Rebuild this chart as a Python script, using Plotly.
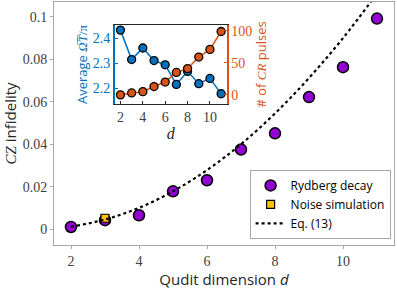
import plotly.graph_objects as go

# main panel
dims = [2, 3, 4, 5, 6, 7, 8, 9, 10, 11]
rydberg_decay = [0.0010, 0.0042, 0.0065, 0.0178, 0.0230, 0.0375, 0.0451, 0.0622, 0.0763, 0.0992]
noise_dims = [3]
noise_sim = [0.0051]
eq13_dims = [2, 3, 4, 5, 6, 7, 8, 9, 10, 11]
eq13_vals = [0.0011, 0.0045, 0.0100, 0.0178, 0.0278, 0.0400, 0.0545, 0.0712, 0.0900, 0.1110]

# inset
inset_dims = [2, 3, 4, 5, 6, 7, 8, 9, 10, 11]
avg_omega_t = [2.432, 2.315, 2.361, 2.311, 2.294, 2.216, 2.268, 2.219, 2.240, 2.179]
cr_pulses = [0, 3, 5, 13, 20, 35, 41, 59, 71, 99]

BLUE = "#0072BD"
ORANGE = "#D95319"
PURPLE = "#9400D3"
GOLD = "#FFC000"
SERIF = "Liberation Serif, Times New Roman, serif"
SANS = "Open Sans, sans-serif"
TICK_FONT = dict(family=SERIF, size=14, color="#404040")

fig = go.Figure()

fig.add_trace(go.Scatter(
    x=dims, y=rydberg_decay, mode="markers", name="Rydberg decay",
    marker=dict(color=PURPLE, size=11, line=dict(color="black", width=1.5)),
))
fig.add_trace(go.Scatter(
    x=noise_dims, y=noise_sim, mode="markers", name="Noise simulation",
    marker=dict(color=GOLD, size=8, symbol="square", line=dict(color="black", width=1.2)),
))
fig.add_trace(go.Scatter(
    x=eq13_dims, y=eq13_vals, mode="lines", name="Eq. (13)",
    line=dict(color="black", width=2.2, dash="dot", shape="spline"),
))

# inset traces
fig.add_trace(go.Scatter(
    x=inset_dims, y=avg_omega_t, mode="lines+markers", showlegend=False,
    xaxis="x2", yaxis="y2",
    line=dict(color=BLUE, width=1.5),
    marker=dict(color=BLUE, size=8, line=dict(color="black", width=1.3)),
))
fig.add_trace(go.Scatter(
    x=inset_dims, y=cr_pulses, mode="lines+markers", showlegend=False,
    xaxis="x2", yaxis="y3",
    line=dict(color=ORANGE, width=1.5),
    marker=dict(color=ORANGE, size=8, line=dict(color="black", width=1.3)),
))

fig.update_layout(
    width=397, height=289,
    margin=dict(l=54, r=3, t=2, b=44),
    plot_bgcolor="white", paper_bgcolor="white",
    xaxis=dict(
        range=[1.5, 11.5], tickvals=[2, 4, 6, 8, 10],
        showgrid=False, zeroline=False, automargin=False,
        showline=True, linecolor="#a8a8a8", linewidth=1, mirror=True,
        ticks="outside", ticklen=3, tickcolor="#a8a8a8",
        tickfont=TICK_FONT,
        title=dict(text="Qudit dimension <i>d</i>", font=dict(family=SANS, size=15, color="#262626"), standoff=3),
    ),
    yaxis=dict(
        range=[-0.0075, 0.107], tickvals=[0, 0.02, 0.04, 0.06, 0.08, 0.1],
        ticktext=["0", "0.02", "0.04", "0.06", "0.08", "0.1"],
        showgrid=False, zeroline=False, automargin=False,
        showline=True, linecolor="#a8a8a8", linewidth=1, mirror=True,
        ticks="outside", ticklen=3, tickcolor="#a8a8a8",
        tickfont=TICK_FONT,
        title=dict(text="<span style='font-family:Liberation Serif'><i>CZ</i></span> infidelity",
                   font=dict(family=SANS, size=15, color="#262626"), standoff=4),
    ),
    xaxis2=dict(
        domain=[0.179, 0.508], anchor="y2", range=[1.5, 11.5],
        tickvals=[2, 4, 6, 8, 10],
        showgrid=False, zeroline=False, automargin=False,
        showline=True, linecolor="#262626", linewidth=1, mirror=True,
        ticks="inside", ticklen=3, tickcolor="#262626",
        tickfont=TICK_FONT,
        title=dict(text="<i>d</i>", font=dict(family=SERIF, size=16, color="#262626"), standoff=1),
    ),
    yaxis2=dict(
        domain=[0.581, 0.905], anchor="x2", range=[2.139, 2.452],
        tickvals=[2.2, 2.3, 2.4],
        showgrid=False, zeroline=False, automargin=False,
        showline=True, linecolor=BLUE, linewidth=1.5,
        ticks="inside", ticklen=3, tickcolor=BLUE,
        tickfont=dict(family=SERIF, size=14, color=BLUE),
        title=dict(text="Average <span style='font-family:Liberation Serif'><i>Ω\u0305T\u0305</i>/π</span>",
                   font=dict(family=SANS, size=13, color=BLUE), standoff=2),
    ),
    yaxis3=dict(
        overlaying="y2", anchor="x2", side="right", range=[-14, 109],
        tickvals=[0, 50, 100],
        showgrid=False, zeroline=False, automargin=False,
        showline=True, linecolor=ORANGE, linewidth=1.5,
        ticks="inside", ticklen=3, tickcolor=ORANGE,
        tickfont=dict(family=SERIF, size=14, color=ORANGE),
        title=dict(text="# of <span style='font-family:Liberation Serif'><i>CR</i></span> pulses",
                   font=dict(family=SANS, size=13, color=ORANGE), standoff=2),
    ),
    legend=dict(
        x=0.99, y=0.025, xanchor="right", yanchor="bottom",
        bgcolor="white", bordercolor="#a8a8a8", borderwidth=1,
        font=dict(family=SANS, size=12, color="black"),
        itemwidth=30, tracegroupgap=0,
    ),
)

# the page's default body margin would shift the 397x289 figure
fig.write_html("out.html", config={"displayModeBar": False},
               post_script="document.body.style.margin='0';")
